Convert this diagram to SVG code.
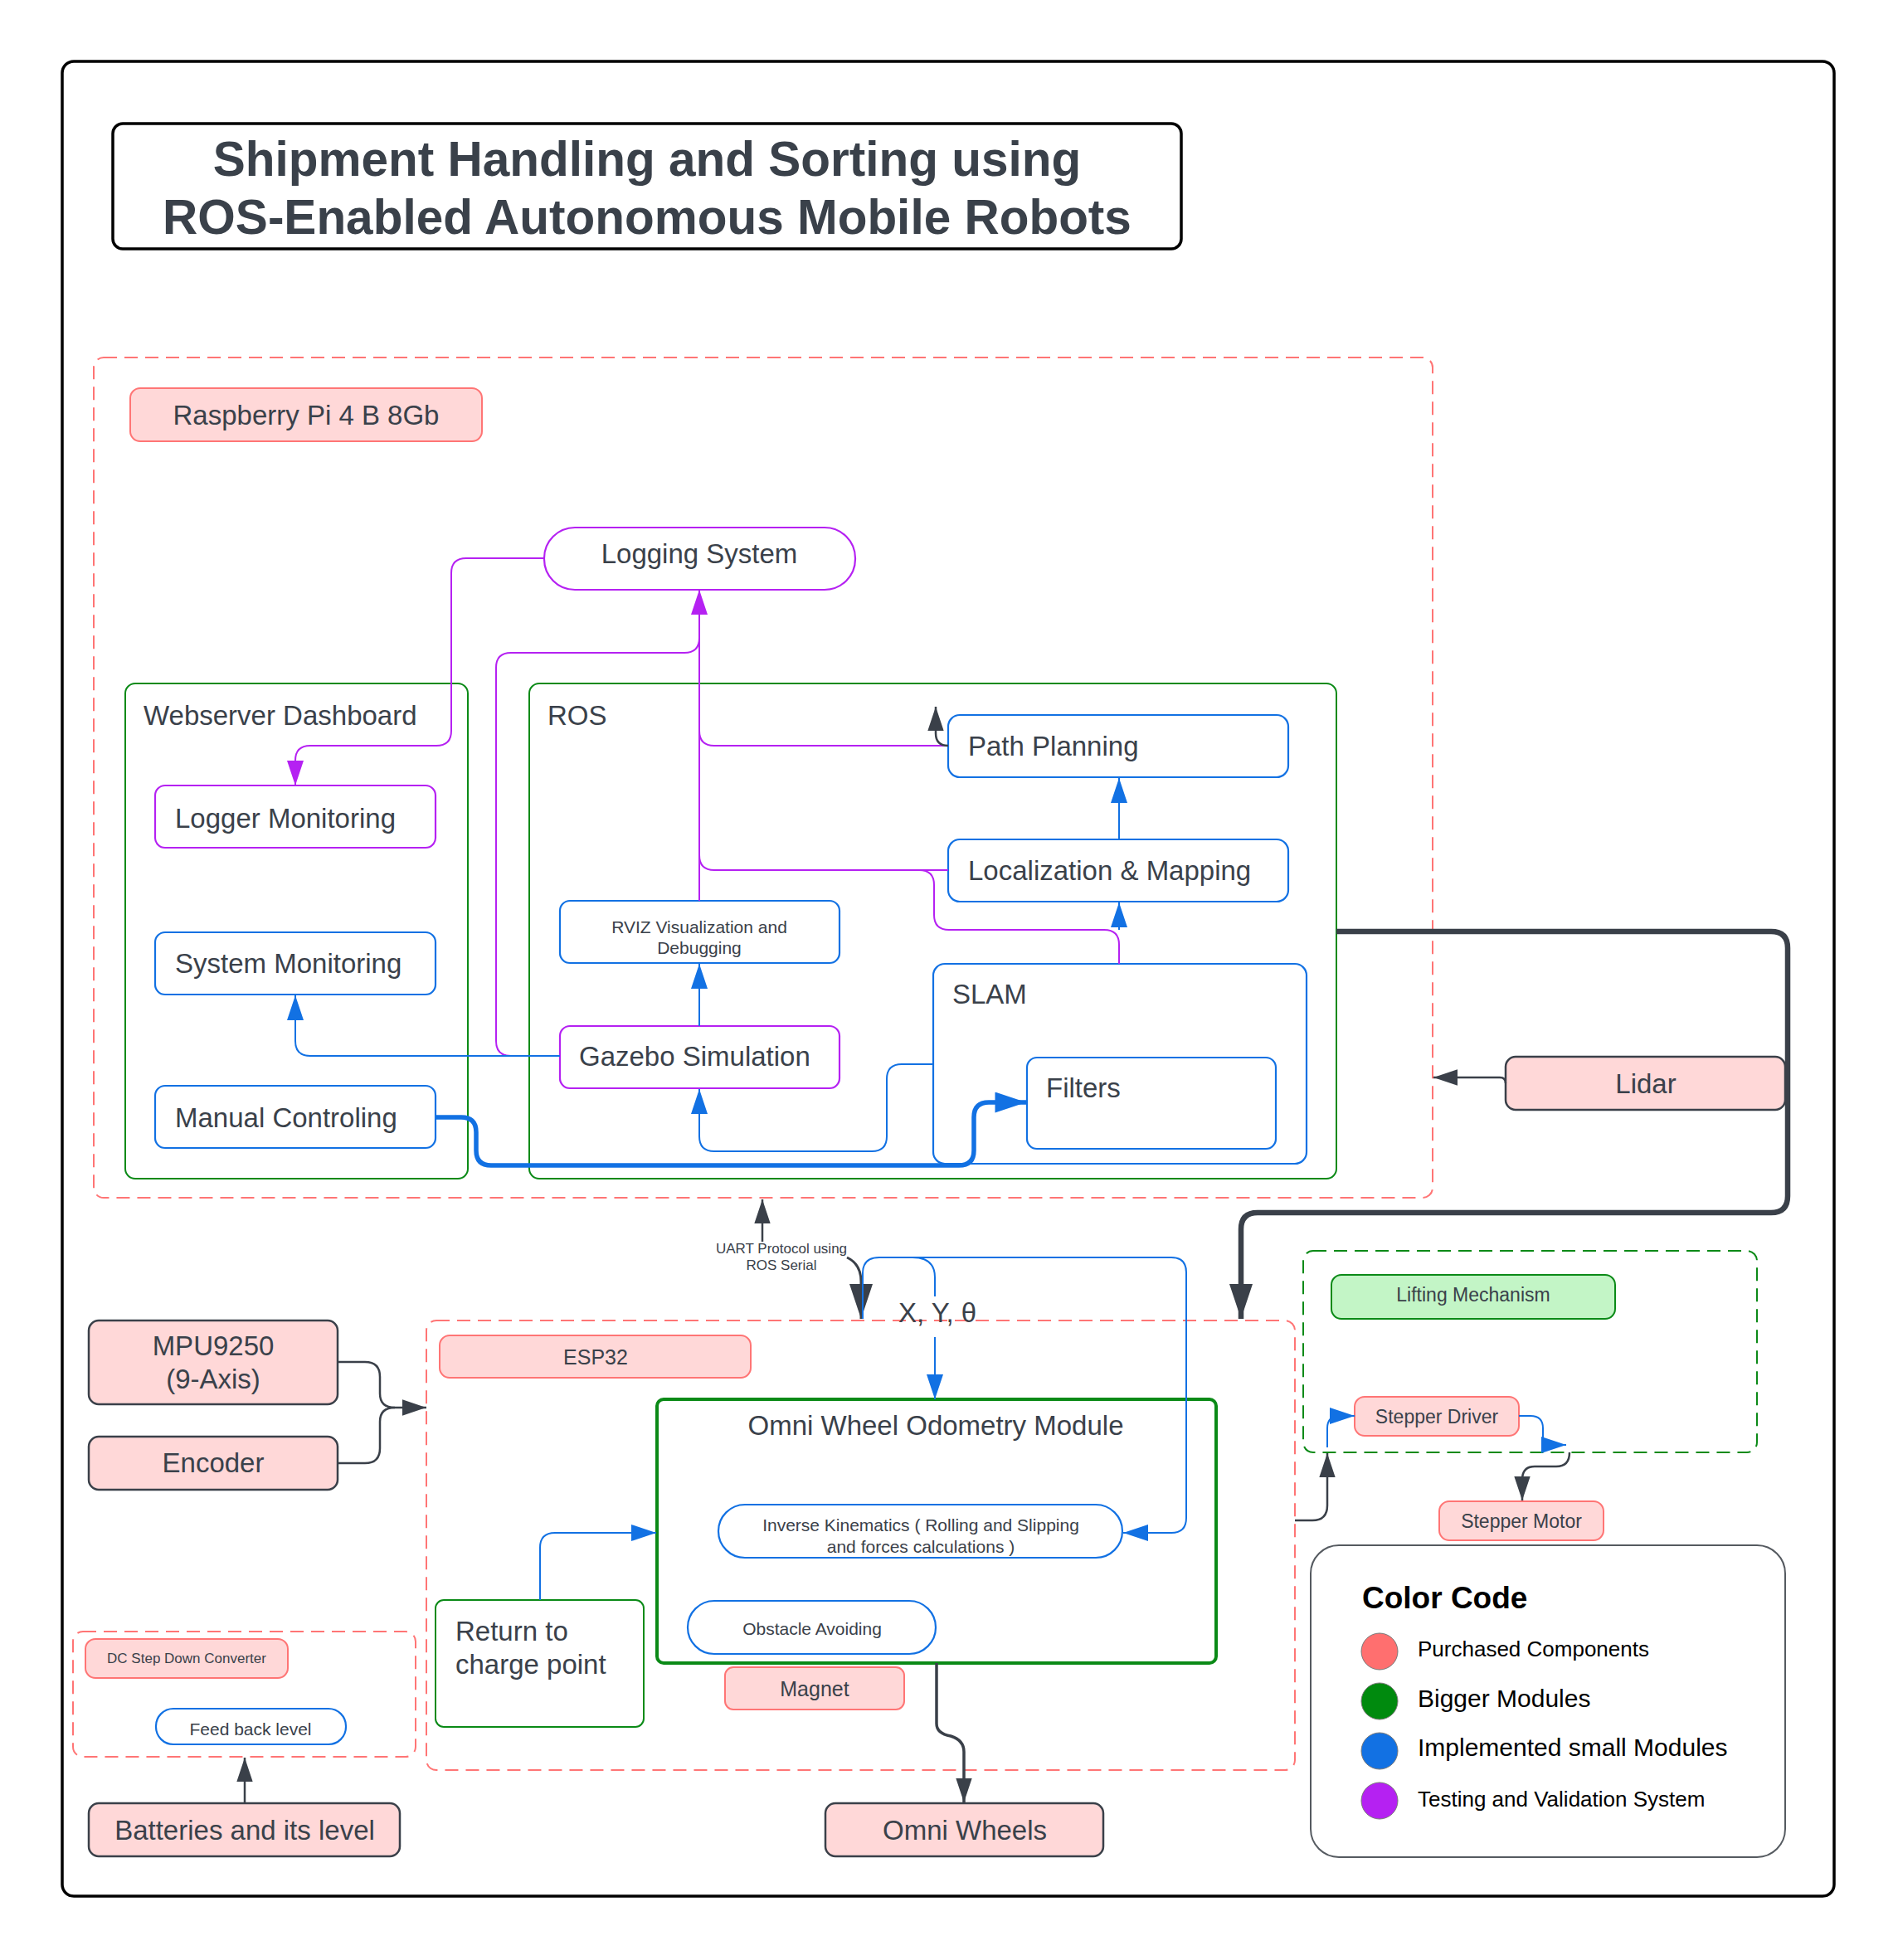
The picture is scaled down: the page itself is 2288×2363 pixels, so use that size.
<svg xmlns="http://www.w3.org/2000/svg" width="2288" height="2363" viewBox="0 0 2288 2363">
<style>
.t{font-family:"Liberation Sans",Arial,sans-serif;fill:#3a414a;}
.pk{fill:#ffd8d8;stroke:#ff7575;stroke-width:2;}
.pkd{fill:#ffd8d8;stroke:#3a4049;stroke-width:2.5;}
.bl{fill:#fff;stroke:#1271e3;stroke-width:2.2;}
.pu{fill:#fff;stroke:#b521f2;stroke-width:2.2;}
.gr{fill:#fff;stroke:#0b8a17;stroke-width:2;}
.dr{fill:none;stroke:#ff7575;stroke-width:2;stroke-dasharray:16 9;}
.dg{fill:none;stroke:#0b8a17;stroke-width:2;stroke-dasharray:16 9;}
.cb{fill:none;stroke:#1271e3;stroke-width:2;}
.cp{fill:none;stroke:#b521f2;stroke-width:2;}
.cd{fill:none;stroke:#3a4049;stroke-width:2.5;}
</style>
<defs>
<marker id="ab" viewBox="0 0 30 20" refX="30" refY="10" markerWidth="30" markerHeight="20" markerUnits="userSpaceOnUse" orient="auto"><path d="M0,0 L30,10 L0,20 z" fill="#1271e3"/></marker>
<marker id="abL" viewBox="0 0 30 20" refX="30" refY="10" markerWidth="38" markerHeight="25" markerUnits="userSpaceOnUse" orient="auto"><path d="M0,0 L30,10 L0,20 z" fill="#1271e3"/></marker>
<marker id="ap" viewBox="0 0 30 20" refX="30" refY="10" markerWidth="30" markerHeight="20" markerUnits="userSpaceOnUse" orient="auto"><path d="M0,0 L30,10 L0,20 z" fill="#b521f2"/></marker>
<marker id="ad" viewBox="0 0 30 20" refX="30" refY="10" markerWidth="29" markerHeight="20" markerUnits="userSpaceOnUse" orient="auto"><path d="M0,0 L30,10 L0,20 z" fill="#3a4049"/></marker>
<marker id="adL" viewBox="0 0 30 20" refX="30" refY="10" markerWidth="42" markerHeight="28" markerUnits="userSpaceOnUse" orient="auto"><path d="M0,0 L30,10 L0,20 z" fill="#3a4049"/></marker>
</defs>
<rect width="2288" height="2363" fill="#fff"/>
<g id="frame"><rect x="75" y="74" width="2136" height="2212" rx="14" fill="none" stroke="#000" stroke-width="3.5"/></g>
<g id="title">
<rect x="136" y="149" width="1288" height="151" rx="12" fill="#fff" stroke="#000" stroke-width="3.5"/>
<text class="t" x="780" y="212" font-size="58.5" font-weight="bold" text-anchor="middle">Shipment Handling and Sorting using</text>
<text class="t" x="780" y="282" font-size="58.5" font-weight="bold" text-anchor="middle">ROS-Enabled Autonomous Mobile Robots</text>
</g>
<g id="raspberry-pi-group"><rect class="dr" x="113" y="431" width="1614" height="1013" rx="12"/></g>
<g id="raspberry-pi"><rect class="pk" x="157" y="468" width="424" height="64" rx="12"/><text class="t" x="369" y="512" font-size="33" text-anchor="middle">Raspberry Pi 4 B 8Gb</text></g>
<g id="logging-system"><rect class="pu" x="656" y="636" width="375" height="75" rx="37"/><text class="t" x="843" y="679" font-size="33" text-anchor="middle">Logging System</text></g>
<g id="webserver-dashboard"><rect class="gr" x="151" y="824" width="413" height="597" rx="12"/><text class="t" x="173" y="874" font-size="33">Webserver Dashboard</text></g>
<g id="logger-monitoring"><rect class="pu" x="187" y="947" width="338" height="75" rx="12"/><text class="t" x="211" y="998" font-size="33">Logger Monitoring</text></g>
<g id="system-monitoring"><rect class="bl" x="187" y="1124" width="338" height="75" rx="12"/><text class="t" x="211" y="1173" font-size="33">System Monitoring</text></g>
<g id="manual-controling"><rect class="bl" x="187" y="1309" width="338" height="75" rx="12"/><text class="t" x="211" y="1359" font-size="33">Manual Controling</text></g>
<g id="ros"><rect class="gr" x="638" y="824" width="973" height="597" rx="12"/><text class="t" x="660" y="874" font-size="33">ROS</text></g>
<g id="path-planning"><rect class="bl" x="1143" y="862" width="410" height="75" rx="14"/><text class="t" x="1167" y="911" font-size="33">Path Planning</text></g>
<g id="localization-mapping"><rect class="bl" x="1143" y="1012" width="410" height="75" rx="14"/><text class="t" x="1167" y="1061" font-size="33">Localization &amp; Mapping</text></g>
<g id="rviz"><rect class="bl" x="675" y="1086" width="337" height="75" rx="12"/><text class="t" x="843" y="1125" font-size="21" text-anchor="middle">RVIZ Visualization and</text><text class="t" x="843" y="1150" font-size="21" text-anchor="middle">Debugging</text></g>
<g id="gazebo-simulation"><rect class="pu" x="675" y="1237" width="337" height="75" rx="12"/><text class="t" x="698" y="1285" font-size="33">Gazebo Simulation</text></g>
<g id="slam"><rect class="bl" x="1125" y="1162" width="450" height="241" rx="14"/><text class="t" x="1148" y="1210" font-size="33">SLAM</text></g>
<g id="filters"><rect class="bl" x="1238" y="1275" width="300" height="110" rx="12"/><text class="t" x="1261" y="1323" font-size="33">Filters</text></g>
<g id="lidar"><rect class="pkd" x="1815" y="1274" width="337" height="64" rx="12"/><text class="t" x="1984" y="1318" font-size="33" text-anchor="middle">Lidar</text></g>
<g id="esp32-group"><rect class="dr" x="514" y="1592" width="1047" height="542" rx="12"/></g>
<g id="esp32"><rect class="pk" x="530" y="1610" width="375" height="51" rx="12"/><text class="t" x="718" y="1645" font-size="25" text-anchor="middle">ESP32</text></g>
<g id="omni-wheel-odometry"><rect x="792" y="1687" width="674" height="318" rx="8" fill="#fff" stroke="#0b8a17" stroke-width="4"/><text class="t" x="1128" y="1730" font-size="33" text-anchor="middle">Omni Wheel Odometry Module</text></g>
<g id="inverse-kinematics"><rect class="bl" x="866" y="1814" width="487" height="64" rx="32"/><text class="t" x="1110" y="1846" font-size="21" text-anchor="middle">Inverse Kinematics ( Rolling and Slipping</text><text class="t" x="1110" y="1872" font-size="21" text-anchor="middle">and forces calculations )</text></g>
<g id="obstacle-avoiding"><rect class="bl" x="829" y="1930" width="299" height="64" rx="32"/><text class="t" x="979" y="1971" font-size="21" text-anchor="middle">Obstacle Avoiding</text></g>
<g id="magnet"><rect class="pk" x="874" y="2010" width="216" height="51" rx="10"/><text class="t" x="982" y="2045" font-size="25" text-anchor="middle">Magnet</text></g>
<g id="return-to-charge"><rect class="gr" x="525" y="1929" width="251" height="153" rx="10"/><text class="t" x="549" y="1978" font-size="33">Return to</text><text class="t" x="549" y="2018" font-size="33">charge point</text></g>
<g id="mpu9250"><rect class="pkd" x="107" y="1592" width="300" height="101" rx="12"/><text class="t" x="257" y="1634" font-size="33" text-anchor="middle">MPU9250</text><text class="t" x="257" y="1674" font-size="33" text-anchor="middle">(9-Axis)</text></g>
<g id="encoder"><rect class="pkd" x="107" y="1732" width="300" height="64" rx="12"/><text class="t" x="257" y="1775" font-size="33" text-anchor="middle">Encoder</text></g>
<g id="power-group"><rect class="dr" x="88" y="1967" width="413" height="151" rx="12"/></g>
<g id="dc-step-down"><rect class="pk" x="103" y="1976" width="244" height="47" rx="12"/><text class="t" x="225" y="2005" font-size="17" text-anchor="middle">DC Step Down Converter</text></g>
<g id="feed-back-level"><rect class="bl" x="188" y="2060" width="229" height="43" rx="21"/><text class="t" x="302" y="2092" font-size="21" text-anchor="middle">Feed back level</text></g>
<g id="batteries"><rect class="pkd" x="107" y="2174" width="375" height="64" rx="12"/><text class="t" x="295" y="2218" font-size="33" text-anchor="middle">Batteries and its level</text></g>
<g id="omni-wheels"><rect class="pkd" x="995" y="2174" width="335" height="64" rx="12"/><text class="t" x="1163" y="2218" font-size="33" text-anchor="middle">Omni Wheels</text></g>
<g id="lifting-group"><rect class="dg" x="1571" y="1508" width="547" height="243" rx="12"/></g>
<g id="lifting-mechanism"><rect x="1605" y="1537" width="342" height="53" rx="12" fill="#c3f5c6" stroke="#0b8a17" stroke-width="2"/><text class="t" x="1776" y="1569" font-size="23" text-anchor="middle">Lifting Mechanism</text></g>
<g id="stepper-driver"><rect class="pk" x="1633" y="1684" width="198" height="47" rx="12"/><text class="t" x="1732" y="1716" font-size="23" text-anchor="middle">Stepper Driver</text></g>
<g id="stepper-motor"><rect class="pk" x="1735" y="1810" width="198" height="47" rx="12"/><text class="t" x="1834" y="1842" font-size="23" text-anchor="middle">Stepper Motor</text></g>
<g id="color-code">
<rect x="1580" y="1863" width="572" height="376" rx="34" fill="#fff" stroke="#555a60" stroke-width="2"/>
<text x="1642" y="1939" font-family="Liberation Sans,Arial,sans-serif" font-size="37" font-weight="bold" fill="#000">Color Code</text>
<circle cx="1663" cy="1991" r="22" fill="#ff6f6f" stroke="#777" stroke-width="1"/>
<circle cx="1663" cy="2051" r="22" fill="#008a0e" stroke="#777" stroke-width="1"/>
<circle cx="1663" cy="2111" r="22" fill="#1271e3" stroke="#777" stroke-width="1"/>
<circle cx="1663" cy="2171" r="22" fill="#b521f2" stroke="#777" stroke-width="1"/>
<text x="1709" y="1997" font-family="Liberation Sans,Arial,sans-serif" font-size="26" fill="#000">Purchased Components</text>
<text x="1709" y="2058" font-family="Liberation Sans,Arial,sans-serif" font-size="30" fill="#000">Bigger Modules</text>
<text x="1709" y="2117" font-family="Liberation Sans,Arial,sans-serif" font-size="30" fill="#000">Implemented small Modules</text>
<text x="1709" y="2178" font-family="Liberation Sans,Arial,sans-serif" font-size="26" fill="#000">Testing and Validation System</text>
</g>
<g id="connectors">
<path class="cp" d="M656,673 H562 Q544,673 544,691 V881 Q544,899 526,899 H374 Q356,899 356,917 V947" marker-end="url(#ap)"/>
<path class="cp" d="M843,1086 V711" marker-end="url(#ap)"/>
<path class="cp" d="M675,1273 H616 Q598,1273 598,1255 V805 Q598,787 616,787 H825 Q843,787 843,769"/>
<path class="cp" d="M1143,899 H861 Q843,899 843,881"/>
<path class="cp" d="M1143,1049 H861 Q843,1049 843,1031"/>
<path class="cp" d="M1349,1162 V1139 Q1349,1121 1331,1121 H1144 Q1126,1121 1126,1103 V1067 Q1126,1049 1108,1049"/>
<path class="cb" d="M675,1273 H374 Q356,1273 356,1255 V1200" marker-end="url(#ab)"/>
<path class="cb" d="M1125,1283 H1087 Q1069,1283 1069,1301 V1370 Q1069,1388 1051,1388 H861 Q843,1388 843,1370 V1313" marker-end="url(#ab)"/>
<path class="cb" d="M843,1237 V1162" marker-end="url(#ab)"/>
<path class="cb" d="M1349,1121 V1088" marker-end="url(#ab)"/>
<path class="cb" d="M1349,1012 V938" marker-end="url(#ab)"/>
<path class="cb" style="stroke-width:5.5" d="M525,1347 H556 Q574,1347 574,1365 V1387 Q574,1405 592,1405 H1156 Q1174,1405 1174,1387 V1347 Q1174,1329 1192,1329 H1237" marker-end="url(#abL)"/>
<path class="cd" d="M1143,899 Q1128,899 1128,884 V852" marker-end="url(#ad)"/>
<path class="cd" style="stroke-width:6.5" d="M1611,1123 H2135 Q2155,1123 2155,1143 V1442 Q2155,1462 2135,1462 H1516 Q1496,1462 1496,1482 V1590" marker-end="url(#adL)"/>
<path class="cd" d="M1815,1306 Q1815,1299 1808,1299 H1728" marker-end="url(#ad)"/>
<path class="cd" d="M919,1497 V1446" marker-end="url(#ad)"/>
<path class="cd" style="stroke-width:3" d="M1021,1516 Q1038,1524 1038,1545 V1590" marker-end="url(#adL)"/>
<path class="cd" d="M407,1642 H440 Q458,1642 458,1660 V1680 Q458,1697 476,1697 H514" marker-end="url(#ad)"/>
<path class="cd" d="M407,1764 H440 Q458,1764 458,1746 V1714 Q458,1697 476,1697"/>
<path class="cd" style="stroke-width:3.5" d="M1129,2005 V2078 Q1129,2090 1146,2093 Q1162,2098 1162,2112 V2173" marker-end="url(#ad)"/>
<path class="cd" d="M295,2174 V2119" marker-end="url(#ad)"/>
<path class="cd" d="M1561,1833 H1582 Q1600,1833 1600,1815 V1752" marker-end="url(#ad)"/>
<path class="cd" d="M1892,1751 Q1892,1768 1876,1768 H1850 Q1835,1768 1835,1784 V1809" marker-end="url(#ad)"/>
<path class="cb" d="M1040,1590 V1535 Q1040,1516 1060,1516 H1412 Q1430,1516 1430,1534 V1830 Q1430,1848 1412,1848 H1354" marker-end="url(#ab)"/>
<path class="cb" d="M1100,1516 Q1127,1516 1127,1540 V1563"/>
<path class="cb" d="M1127,1612 V1687" marker-end="url(#ab)"/>
<path class="cb" d="M651,1929 V1866 Q651,1848 669,1848 H791" marker-end="url(#ab)"/>
<path class="cb" d="M1600,1745 V1722 Q1600,1707 1615,1707 H1633" marker-end="url(#ab)"/>
<path class="cb" d="M1831,1707 H1845 Q1860,1707 1860,1722 V1742 H1888" marker-end="url(#ab)"/>
<text class="t" x="942" y="1511" font-size="17" text-anchor="middle">UART Protocol using</text>
<text class="t" x="942" y="1531" font-size="17" text-anchor="middle">ROS Serial</text>
<text class="t" x="1130" y="1594" font-size="33" text-anchor="middle">X, Y, θ</text>
</g>
</svg>
